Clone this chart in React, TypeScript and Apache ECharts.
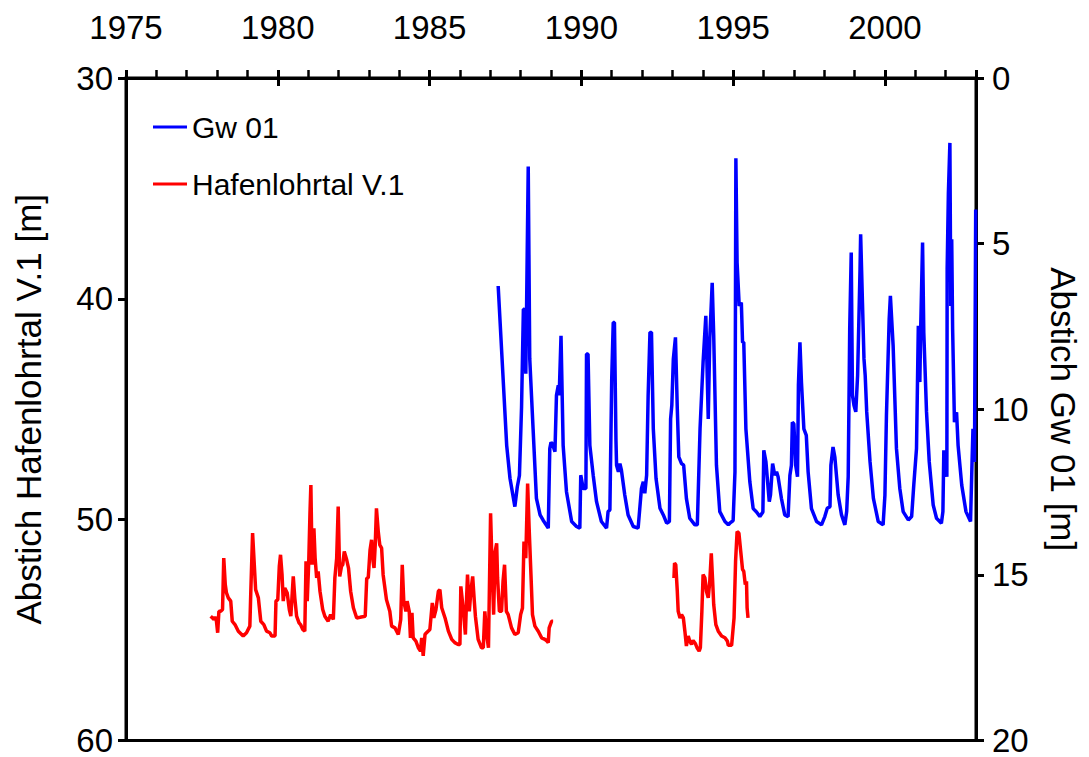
import React, { useEffect, useRef } from "react";
import * as echarts from "echarts";

// Gw 01 (right axis, Abstich in m)
const gw01Time = [
  1987.26, 1987.54, 1987.65, 1987.81, 1987.89, 1987.96, 1988.03, 1988.09, 1988.12, 1988.17, 1988.25, 1988.3,
  1988.41, 1988.52, 1988.64, 1988.74, 1988.91, 1988.96, 1989.0, 1989.05, 1989.13, 1989.18, 1989.24, 1989.27,
  1989.33, 1989.4, 1989.51, 1989.68, 1989.84, 1989.95, 1989.98, 1990.06, 1990.15, 1990.17, 1990.22, 1990.28,
  1990.39, 1990.5, 1990.66, 1990.83, 1990.88, 1990.94, 1991.0, 1991.05, 1991.09, 1991.14, 1991.16, 1991.22,
  1991.27, 1991.32, 1991.43, 1991.54, 1991.71, 1991.87, 1991.98, 1992.04, 1992.09, 1992.15, 1992.2, 1992.26,
  1992.31, 1992.37, 1992.46, 1992.59, 1992.7, 1992.81, 1992.9, 1992.94, 1992.98, 1993.03, 1993.1, 1993.16,
  1993.21, 1993.3, 1993.37, 1993.46, 1993.57, 1993.74, 1993.82, 1993.91, 1994.01, 1994.1, 1994.18, 1994.23,
  1994.31, 1994.36, 1994.45, 1994.56, 1994.73, 1994.84, 1994.89, 1995.0, 1995.06, 1995.09, 1995.13, 1995.2,
  1995.27, 1995.31, 1995.35, 1995.42, 1995.55, 1995.66, 1995.77, 1995.88, 1995.98, 1996.01, 1996.08, 1996.19,
  1996.23, 1996.3, 1996.37, 1996.43, 1996.48, 1996.59, 1996.7, 1996.81, 1996.87, 1996.92, 1996.95, 1997.0,
  1997.06, 1997.12, 1997.15, 1997.2, 1997.25, 1997.33, 1997.41, 1997.47, 1997.58, 1997.75, 1997.91, 1998.02,
  1998.1, 1998.19, 1998.22, 1998.29, 1998.35, 1998.46, 1998.57, 1998.68, 1998.74, 1998.79, 1998.84, 1998.89,
  1998.93, 1998.98, 1999.04, 1999.1, 1999.18, 1999.2, 1999.26, 1999.31, 1999.35, 1999.4, 1999.51, 1999.62,
  1999.78, 1999.94, 2000.0, 2000.05, 2000.14, 2000.18, 2000.27, 2000.38, 2000.49, 2000.6, 2000.77, 2000.88,
  2000.95, 2001.04, 2001.1, 2001.15, 2001.18, 2001.24, 2001.28, 2001.37, 2001.46, 2001.59, 2001.7, 2001.86,
  2001.91, 2001.94, 2001.99, 2002.01, 2002.04, 2002.05, 2002.09, 2002.14, 2002.17, 2002.2, 2002.23, 2002.29,
  2002.36, 2002.41, 2002.53, 2002.67, 2002.82, 2002.87, 2002.9, 2002.95, 2002.99,
];
const gw01Depth = [
  6.28, 11.09, 12.09, 12.94, 12.34, 12.0, 9.93, 6.98, 6.98, 8.93, 2.67, 8.48,
  10.59, 12.69, 13.19, 13.35, 13.59, 11.19, 11.0, 11.05, 11.28, 9.58, 9.28, 9.58,
  7.78, 11.09, 12.49, 13.39, 13.54, 13.59, 11.99, 12.39, 12.39, 8.33, 8.33, 11.09,
  11.99, 12.79, 13.39, 13.59, 13.09, 13.04, 9.08, 7.38, 7.38, 10.94, 11.69, 11.89,
  11.64, 11.84, 12.59, 13.19, 13.54, 13.59, 12.39, 12.19, 12.54, 11.99, 9.58, 7.68,
  7.68, 10.59, 12.09, 12.99, 13.19, 13.44, 13.39, 10.29, 9.88, 8.48, 7.83, 9.98,
  11.44, 11.64, 11.69, 12.69, 13.29, 13.49, 13.49, 10.59, 8.58, 7.18, 10.29, 7.88,
  6.18, 7.78, 11.69, 13.09, 13.39, 13.49, 13.44, 13.36, 11.89, 2.42, 5.57, 6.88,
  6.78, 7.98, 7.98, 10.59, 12.19, 13.0, 13.1, 13.24, 13.1, 11.24, 11.59, 12.79,
  12.59, 11.64, 11.99, 11.89, 12.04, 12.69, 13.19, 13.24, 11.99, 11.69, 10.39, 10.44,
  11.69, 12.04, 9.28, 7.98, 9.18, 10.59, 10.79, 11.89, 13.0, 13.39, 13.49, 13.24,
  12.99, 12.94, 11.69, 11.14, 11.44, 12.59, 13.19, 13.49, 13.09, 12.04, 7.58, 5.27,
  9.58, 9.88, 10.08, 8.98, 5.77, 4.72, 6.78, 8.48, 8.98, 10.08, 11.59, 12.69,
  13.39, 13.49, 12.59, 10.18, 7.28, 6.58, 8.08, 11.19, 12.39, 13.09, 13.34, 13.24,
  12.29, 11.19, 7.48, 9.18, 7.48, 4.97, 7.68, 10.08, 11.59, 12.89, 13.29, 13.44,
  13.09, 11.24, 12.04, 11.24, 12.04, 5.77, 3.47, 1.96, 6.88, 4.87, 7.58, 10.39,
  10.09, 11.09, 12.29, 13.09, 13.39, 11.59, 10.59, 11.59, 3.97,
];

// Hafenlohrtal V.1 (left axis, Abstich in m) - first period
const hafen1Time = [
  1977.79, 1977.85, 1977.9, 1977.93, 1977.98, 1978.02, 1978.06, 1978.12, 1978.18, 1978.22, 1978.27, 1978.31,
  1978.37, 1978.45, 1978.5, 1978.59, 1978.7, 1978.86, 1978.97, 1979.08, 1979.11, 1979.17, 1979.22, 1979.27,
  1979.36, 1979.44, 1979.54, 1979.63, 1979.74, 1979.8, 1979.91, 1979.94, 1980.0, 1980.05, 1980.09, 1980.14,
  1980.18, 1980.23, 1980.31, 1980.38, 1980.43, 1980.51, 1980.56, 1980.62, 1980.7, 1980.75, 1980.82, 1980.89,
  1980.93, 1980.97, 1981.02, 1981.06, 1981.09, 1981.13, 1981.19, 1981.23, 1981.28, 1981.33, 1981.39, 1981.48,
  1981.55, 1981.66, 1981.74, 1981.83, 1981.88, 1981.94, 1981.99, 1982.04, 1982.1, 1982.14, 1982.19, 1982.27,
  1982.33, 1982.4, 1982.49, 1982.6, 1982.71, 1982.88, 1982.93, 1982.98, 1983.04, 1983.09, 1983.14, 1983.17,
  1983.21, 1983.25, 1983.31, 1983.36, 1983.42, 1983.47, 1983.58, 1983.69, 1983.75, 1983.86, 1983.97, 1984.05,
  1984.1, 1984.15, 1984.22, 1984.26, 1984.33, 1984.37, 1984.42, 1984.46, 1984.55, 1984.63, 1984.7, 1984.74,
  1984.79, 1984.85, 1984.9, 1985.01, 1985.09, 1985.14, 1985.21, 1985.29, 1985.34, 1985.4, 1985.51, 1985.62,
  1985.73, 1985.83, 1985.94, 1986.0, 1986.03, 1986.11, 1986.18, 1986.22, 1986.25, 1986.31, 1986.36, 1986.42,
  1986.47, 1986.51, 1986.6, 1986.71, 1986.77, 1986.82, 1986.88, 1986.94, 1987.01, 1987.06, 1987.11, 1987.16,
  1987.21, 1987.24, 1987.3, 1987.37, 1987.42, 1987.47, 1987.53, 1987.59, 1987.7, 1987.81, 1987.92, 1988.0,
  1988.06, 1988.11, 1988.17, 1988.23, 1988.28, 1988.34, 1988.39, 1988.47, 1988.58, 1988.69, 1988.8, 1988.87,
  1988.91, 1988.94, 1989.02, 1989.07,
];
const hafen1Depth = [
  54.37, 54.45, 54.52, 54.4, 54.6, 55.12, 54.15, 54.15, 54.07, 51.74, 52.94, 53.32,
  53.54, 53.69, 54.6, 54.75, 55.05, 55.27, 55.12, 54.82, 53.32, 50.61, 51.89, 53.17,
  53.54, 54.6, 54.75, 55.05, 55.12, 55.27, 55.27, 53.69, 53.62, 52.11, 51.59, 52.49,
  53.69, 53.09, 53.32, 54.07, 54.37, 52.57, 53.54, 54.37, 54.67, 54.75, 54.97, 55.05,
  51.89, 53.69, 51.89, 49.71, 48.43, 52.04, 50.39, 51.74, 52.64, 52.34, 53.24, 54.07,
  54.37, 54.6, 54.3, 54.52, 52.64, 51.74, 49.41, 52.57, 52.11, 52.04, 51.44, 51.82,
  52.19, 53.24, 53.99, 54.45, 54.42, 54.37, 52.64, 52.64, 51.36, 50.91, 51.89, 52.19,
  51.14, 49.49, 50.54, 51.14, 51.29, 52.49, 53.62, 54.15, 54.82, 54.9, 55.2, 54.52,
  52.04, 53.69, 54.15, 53.69, 54.15, 55.35, 54.22, 55.35, 55.5, 55.8, 55.95, 55.35,
  56.17, 55.2, 55.12, 54.97, 53.77, 54.45, 54.07, 53.24, 53.17, 53.99, 54.45, 55.05,
  55.42, 55.57, 55.65, 55.65, 53.02, 54.07, 55.2, 53.54, 52.49, 54.15, 53.24, 52.57,
  53.62, 54.37, 55.42, 55.8, 55.8, 54.15, 55.2, 55.8, 49.71, 52.19, 54.3, 51.44,
  51.07, 52.64, 54.15, 54.15, 52.79, 52.04, 54.15, 54.3, 54.9, 55.2, 55.12, 54.3,
  54.0, 50.99, 51.74, 48.36, 50.39, 52.49, 54.3, 54.82, 55.05, 55.35, 55.42, 55.5,
  55.57, 54.9, 54.6, 54.6,
];

// Hafenlohrtal V.1 - second period
const hafen2Time = [
  1993.05, 1993.07, 1993.11, 1993.16, 1993.19, 1993.25, 1993.3, 1993.36, 1993.41, 1993.46, 1993.52, 1993.57,
  1993.63, 1993.68, 1993.76, 1993.81, 1993.88, 1993.92, 1993.97, 1994.01, 1994.07, 1994.12, 1994.18, 1994.23,
  1994.28, 1994.32, 1994.36, 1994.43, 1994.51, 1994.62, 1994.73, 1994.81, 1994.84, 1994.95, 1995.03, 1995.08,
  1995.13, 1995.19, 1995.25, 1995.31, 1995.35, 1995.4, 1995.44, 1995.46, 1995.49,
];
const hafen2Depth = [
  52.64, 51.97, 52.04, 53.24, 54.15, 54.45, 54.3, 54.45, 55.05, 55.72, 55.27, 55.5,
  55.65, 55.47, 55.62, 55.8, 55.95, 55.8, 54.15, 52.49, 52.64, 53.24, 53.54, 52.79,
  51.52, 52.64, 53.84, 54.75, 55.05, 55.27, 55.35, 55.5, 55.69, 55.69, 54.45, 51.89,
  50.54, 50.61, 51.44, 52.26, 52.34, 52.94, 52.79, 53.99, 54.45,
];

const xMin = 1975;
const xMax = 2003;
const xInterval = 5;
const leftMin = 30;
const leftMax = 60;
const leftInterval = 10;
const rightMin = 0;
const rightMax = 20;
const rightInterval = 5;

const zip = (a: number[], b: number[]) => a.map((v, i) => [v, b[i]]);

const FONT = "Liberation Sans, Arial, sans-serif";
const LINE_W = 3.5;

export default function App() {
  const ref = useRef<HTMLDivElement>(null);
  useEffect(() => {
    if (!ref.current) return;
    const chart = echarts.init(ref.current, undefined, { renderer: "svg" });
    const axisLine = { show: true, lineStyle: { color: "#000", width: 3 } };
    chart.setOption({
      animation: false,
      backgroundColor: "#fff",
      textStyle: { fontFamily: FONT },
      grid: {
        left: 126,
        right: 113,
        top: 78,
        bottom: 14,
        show: true,
        borderColor: "#000",
        borderWidth: 3,
        backgroundColor: "transparent",
      },
      legend: {
        orient: "vertical",
        left: 148,
        top: 107,
        icon: "rect",
        itemWidth: 34,
        itemHeight: 3,
        itemGap: 27,
        data: ["Gw 01", "Hafenlohrtal V.1"],
        textStyle: { fontSize: 30, lineHeight: 30, color: "#000", fontFamily: FONT },
      },
      xAxis: [
        {
          type: "value",
          position: "top",
          min: xMin,
          max: xMax,
          interval: xInterval,
          axisLine,
          axisTick: { show: true, length: 8, lineStyle: { color: "#000", width: 3 } },
          minorTick: { show: true, splitNumber: 5, length: 8, lineStyle: { color: "#000", width: 2.5 } },
          splitLine: { show: false },
          axisLabel: {
            fontSize: 33,
            color: "#000",
            margin: 34,
            fontFamily: FONT,
            formatter: (v: number) => (v % 5 === 0 ? String(v) : ""),
          },
        },
        {
          type: "value",
          position: "top",
          min: xMin,
          max: xMax,
          interval: xInterval,
          axisLine: { show: false },
          axisTick: { show: true, inside: true, length: 8, lineStyle: { color: "#000", width: 3 } },
          splitLine: { show: false },
          axisLabel: { show: false },
        },
      ],
      yAxis: [
        {
          type: "value",
          position: "left",
          min: leftMin,
          max: leftMax,
          interval: leftInterval,
          inverse: true,
          axisLine,
          axisTick: { show: true, length: 8, lineStyle: { color: "#000", width: 3 } },
          splitLine: { show: false },
          axisLabel: { fontSize: 33, lineHeight: 26, color: "#000", margin: 13, fontFamily: FONT },
          name: "Abstich Hafenlohrtal V.1 [m]",
          nameLocation: "middle",
          nameRotate: 90,
          nameGap: 80,
          nameTextStyle: { fontSize: 35, color: "#000", fontFamily: FONT },
        },
        {
          type: "value",
          position: "right",
          min: rightMin,
          max: rightMax,
          interval: rightInterval,
          inverse: true,
          axisLine,
          axisTick: { show: true, length: 8, lineStyle: { color: "#000", width: 3 } },
          splitLine: { show: false },
          axisLabel: { fontSize: 33, lineHeight: 26, color: "#000", margin: 16, fontFamily: FONT },
          name: "Abstich Gw 01 [m]",
          nameLocation: "middle",
          nameRotate: -90,
          nameGap: 70,
          nameTextStyle: { fontSize: 35, color: "#000", fontFamily: FONT },
        },
      ],
      series: [
        {
          name: "Gw 01",
          type: "line",
          xAxisIndex: 0,
          yAxisIndex: 1,
          data: zip(gw01Time, gw01Depth),
          symbol: "none",
          showSymbol: false,
          lineStyle: { color: "#0000ff", width: LINE_W },
          itemStyle: { color: "#0000ff" },
        },
        {
          name: "Hafenlohrtal V.1",
          type: "line",
          xAxisIndex: 0,
          yAxisIndex: 0,
          data: zip(hafen1Time, hafen1Depth),
          symbol: "none",
          showSymbol: false,
          lineStyle: { color: "#ff0000", width: LINE_W },
          itemStyle: { color: "#ff0000" },
        },
        {
          name: "Hafenlohrtal V.1",
          type: "line",
          xAxisIndex: 0,
          yAxisIndex: 0,
          data: zip(hafen2Time, hafen2Depth),
          symbol: "none",
          showSymbol: false,
          lineStyle: { color: "#ff0000", width: LINE_W },
          itemStyle: { color: "#ff0000" },
        },
      ],
    });
    return () => chart.dispose();
  }, []);
  return (
    <div
      ref={ref}
      style={{ position: "fixed", left: 0, top: 0, width: 1089, height: 757, background: "#fff" }}
    />
  );
}
